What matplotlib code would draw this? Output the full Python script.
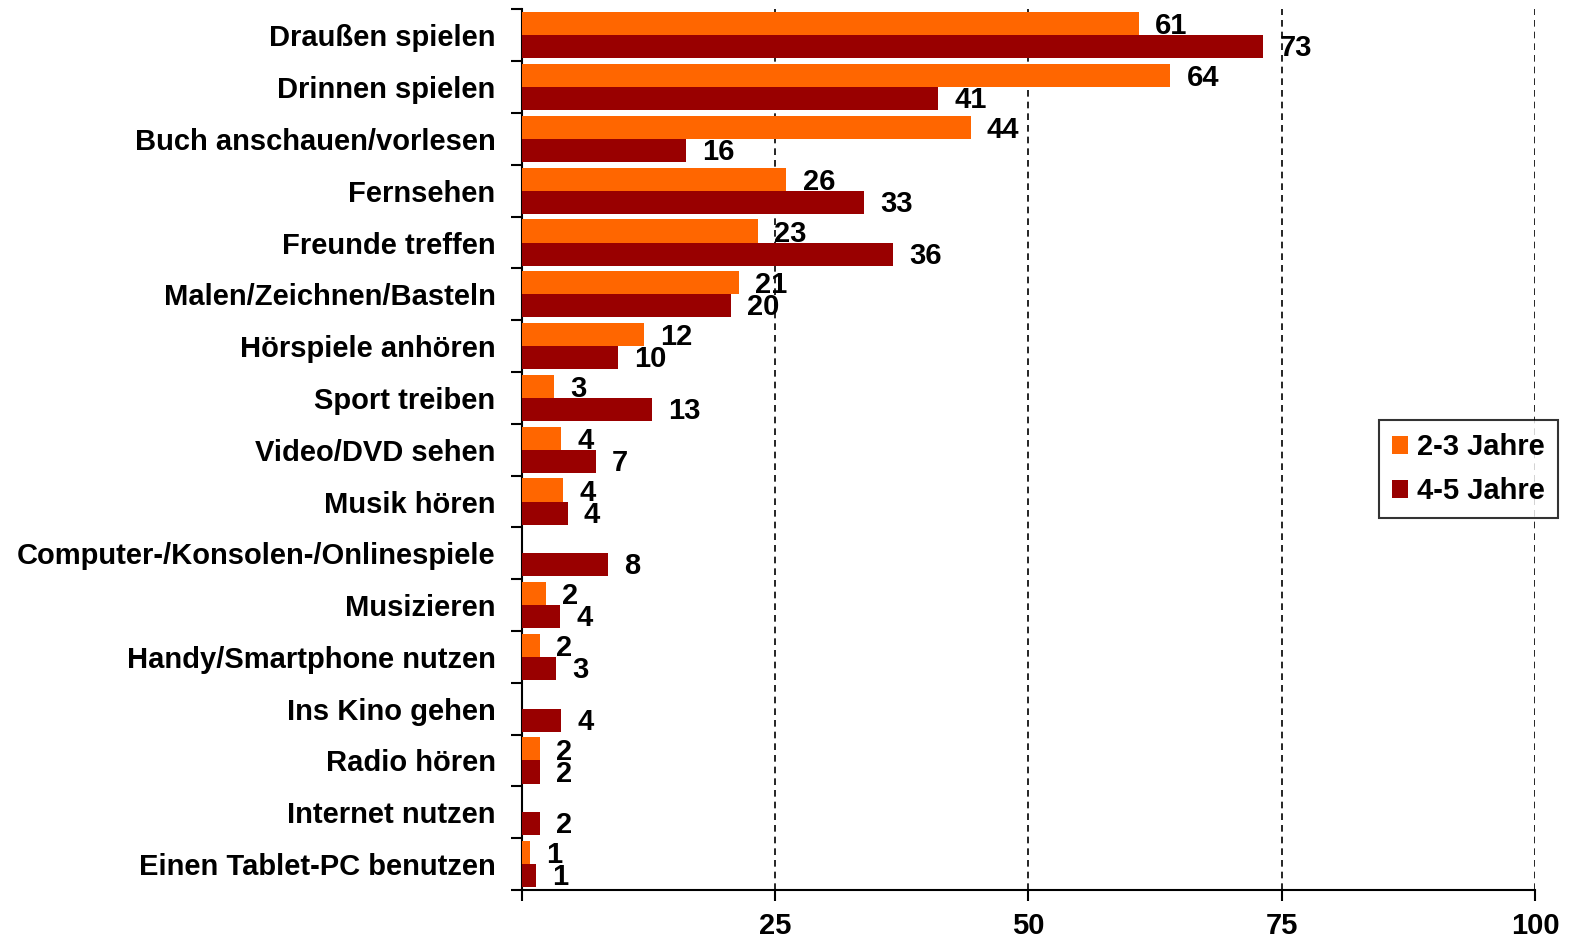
import matplotlib.pyplot as plt
import numpy as np

plt.rcParams['font.family'] = ['Liberation Sans', 'DejaVu Sans']
plt.rcParams['font.weight'] = 'bold'

categories = ["Draußen spielen", "Drinnen spielen", "Buch anschauen/vorlesen", "Fernsehen",
              "Freunde treffen", "Malen/Zeichnen/Basteln", "Hörspiele anhören", "Sport treiben",
              "Video/DVD sehen", "Musik hören", "Computer-/Konsolen-/Onlinespiele", "Musizieren",
              "Handy/Smartphone nutzen", "Ins Kino gehen", "Radio hören", "Internet nutzen",
              "Einen Tablet-PC benutzen"]
# bar lengths, None = no bar
age_2_3 = [60.9, 64.0, 44.3, 26.1, 23.3, 21.4, 12.0, 3.2, 3.9, 4.1, None, 2.4, 1.8, None, 1.8, None, 0.8]
age_4_5 = [73.2, 41.1, 16.2, 33.8, 36.6, 20.6, 9.5, 12.8, 7.3, 4.5, 8.5, 3.8, 3.4, 3.9, 1.8, 1.8, 1.4]
labels_2_3 = ["61", "64", "44", "26", "23", "21", "12", "3", "4", "4", "", "2", "2", "", "2", "", "1"]
labels_4_5 = ["73", "41", "16", "33", "36", "20", "10", "13", "7", "4", "8", "4", "3", "4", "2", "2", "1"]

c_young = '#FF6600'
c_old = '#990000'
fs = 21

fig = plt.figure(figsize=(15.74, 9.41), dpi=100)
ax = fig.add_axes([0.3316, 0.0542, 0.6436, 0.9358])

y = np.arange(len(categories))
h = 0.445
v1 = np.array([v if v is not None else 0 for v in age_2_3])
v2 = np.array(age_4_5)

ax.barh(y - h / 2, v1, height=h, color=c_young, label="2-3 Jahre", zorder=3)
ax.barh(y + h / 2, v2, height=h, color=c_old, label="4-5 Jahre", zorder=3)

for i in range(len(categories)):
    if labels_2_3[i]:
        ax.text(v1[i] + 1.6, y[i] - h / 2 + 0.05, labels_2_3[i], va='center', ha='left',
                fontsize=fs, fontweight='bold', zorder=4)
    ax.text(v2[i] + 1.6, y[i] + h / 2 + 0.03, labels_4_5[i], va='center', ha='left',
            fontsize=fs, fontweight='bold', zorder=4)

ax.set_xlim(0, 100)
ax.set_ylim(len(categories) - 0.5, -0.5)

ax.set_xticks([0, 25, 50, 75, 100])
ax.set_xticklabels(["", "25", "50", "75", "100"], fontsize=fs, fontweight='bold')
ax.tick_params(axis='x', direction='out', length=8, width=1.5, pad=8)

ax.set_yticks(np.arange(len(categories) + 1) - 0.5)
ax.set_yticklabels([])
ax.set_yticks(y, minor=True)
ax.set_yticklabels(categories, minor=True, fontsize=fs, fontweight='bold')
ax.tick_params(axis='y', which='major', direction='out', length=8, width=1.5)
ax.tick_params(axis='y', which='minor', length=0, pad=19)

for xv in [25, 50, 75, 100]:
    ax.axvline(xv, color='black', linestyle=(0, (4, 3)), linewidth=1.2, zorder=1)

ax.spines['top'].set_visible(False)
ax.spines['right'].set_visible(False)
ax.spines['left'].set_linewidth(1.5)
ax.spines['bottom'].set_linewidth(1.5)

leg = ax.legend(loc='upper right', bbox_to_anchor=(1558 / 1574, 1 - 420 / 941),
                bbox_transform=fig.transFigure,
                handlelength=0.55, handleheight=0.55, handletextpad=0.3, labelspacing=0.55,
                frameon=True, fancybox=False, borderpad=0.45, borderaxespad=0,
                prop={'weight': 'bold', 'size': fs})
leg.get_frame().set_edgecolor('black')
leg.get_frame().set_linewidth(1.5)
leg.set_zorder(5)

fig.savefig("out.png", dpi=100)
